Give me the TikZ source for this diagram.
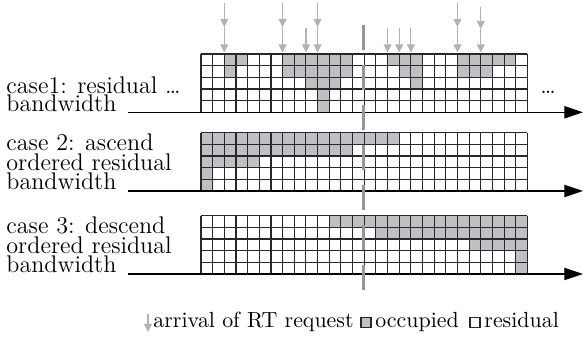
\documentclass[tikz,border=0pt]{standalone}
\usetikzlibrary{arrows.meta}
\definecolor{occ}{RGB}{192,192,196}
\definecolor{gridc}{RGB}{40,40,40}
\definecolor{reqc}{RGB}{178,178,178}
\definecolor{nowc}{RGB}{150,150,150}
\newcommand\cs{11.66}
% #1 top y, #2 list of row/first/last occupied cells
\newcommand\bwgrid[2]{%
  \fill[white] (201,#1) rectangle ++(326.5,58.3);
  \foreach \r/\a/\b in {#2}{%
    \foreach \c in {\a,...,\b}{%
      \fill[occ] ({201+\c*\cs},{#1+\r*\cs}) rectangle ++(\cs,\cs);}}
  \foreach \i in {0,...,28} \draw[gridline] ({201+\i*\cs},#1) -- ++(0,58.3);
  \foreach \j in {0,...,5} \draw[gridline] (201,{#1+\j*\cs}) -- ++(326.5,0);
}
\begin{document}
\begin{tikzpicture}[x=0.4566pt,y=-0.4566pt,
  gridline/.style={draw=gridc,line width=0.5pt},
  lab/.style={anchor=base west,inner sep=0pt,font=\fontsize{11}{12}\selectfont},
  leg/.style={anchor=base west,inner sep=0pt,font=\fontsize{10}{12}\selectfont},
  axis/.style={draw=black,line width=0.5pt,-{Triangle[length=8.5pt,width=5.6pt]}},
  req/.style={draw=reqc,line width=0.5pt,-{Triangle[length=3.7pt,width=3.6pt]}},
  nowline/.style={draw=nowc,line width=1.37pt,dash pattern=on 11.4pt off 6.85pt},
  legsq/.style={draw=gridc,line width=0.5pt,minimum size=4.6pt,inner sep=0pt}]
\useasboundingbox (0,0) rectangle (583,344);

% grids
\bwgrid{54}{0/2/3,0/7/12,0/16/18,0/22/26,1/2/2,1/7/12,1/17/18,1/22/24,2/9/11,2/18/18,3/10/10,4/10/10}
\bwgrid{132.7}{0/0/16,1/0/12,2/0/4,3/0/0,4/0/0}
\bwgrid{215.7}{0/11/27,1/15/27,2/23/27,3/27/27,4/27/27}

% labels
\node[lab] (c1a) at (6,93.5) {case1: residual \ldots};
\node[lab] (c1b) at (6,111.5) {bandwidth};
\node[lab] (c2a) at (6,151) {case 2: ascend};
\node[lab] (c2b) at (6,170.5) {ordered residual};
\node[lab] (c2c) at (6,190) {bandwidth};
\node[lab] (c3a) at (6,234) {case 3: descend};
\node[lab] (c3b) at (6,253.5) {ordered residual};
\node[lab] (c3c) at (6,273) {bandwidth};
\node[lab] (dots) at (540,93.5) {\ldots};

% axes
\coordinate (a1s) at (128,112.3); \coordinate (a1e) at (583,112.3);
\coordinate (a2s) at (128,191);   \coordinate (a2e) at (583,191);
\coordinate (a3s) at (128,274);   \coordinate (a3e) at (583,274);
\draw[axis] (a1s) -- (a1e);
\draw[axis] (a2s) -- (a2e);
\draw[axis] (a3s) -- (a3e);

% request arrivals
\foreach \x in {224.3,282.6,317.6,457.5}{
  \draw[req] (\x,3) -- (\x,27);
  \draw[req] (\x,27) -- (\x,52.5);}
\draw[req] (480.8,7) -- (480.8,29);
\draw[req] (480.8,29) -- (480.8,52.5);
\foreach \x in {306,387.6,399.2,410.9}
  \draw[req] (\x,28) -- (\x,52.5);

% current time
\coordinate (nt) at (363.3,25); \coordinate (nb) at (363.3,290);
\draw[nowline] (nt) -- (nb);

% legend
\coordinate (lt) at (148,314); \coordinate (lb) at (148,332);
\draw[req] (lt) -- (lb);
\node[leg] (l1) at (153,328) {arrival of RT request};
\node[legsq,fill=occ] (s1) at (366,322.5) {};
\node[leg] (l2) at (375,328) {occupied};
\node[legsq,fill=white] (s2) at (475,322.5) {};
\node[leg] (l3) at (484,328) {residual};
\end{tikzpicture}
\end{document}
